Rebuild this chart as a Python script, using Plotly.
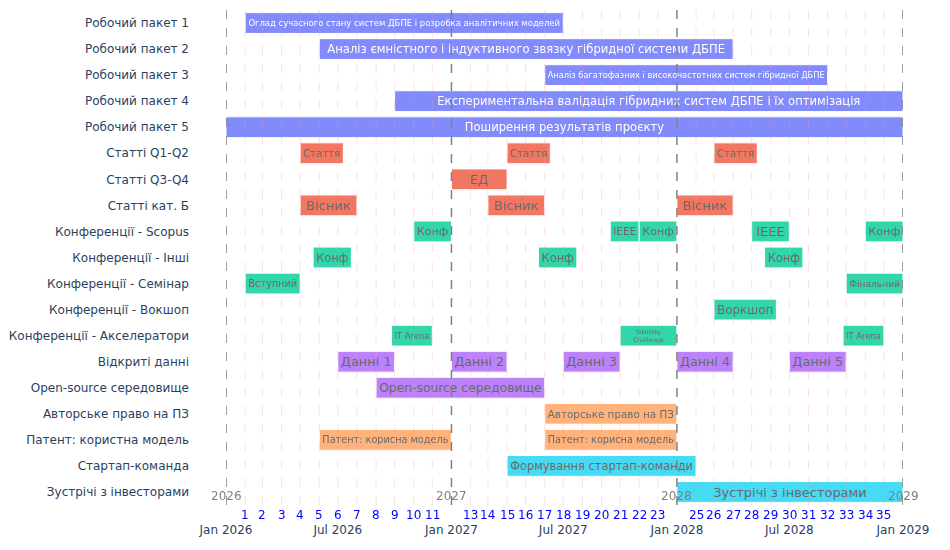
import plotly.graph_objects as go
import pandas as pd

categories = [
    "Робочий пакет 1", "Робочий пакет 2", "Робочий пакет 3", "Робочий пакет 4",
    "Робочий пакет 5", "Статті Q1-Q2", "Статті Q3-Q4", "Статті кат. Б",
    "Конференції - Scopus", "Конференції - Інші", "Конференції - Семінар",
    "Конференції - Вокшоп", "Конференції - Акселератори", "Відкриті данні",
    "Open-source середовище", "Авторське право на ПЗ", "Патент: користна модель",
    "Стартап-команда", "Зустрічі з інвесторами",
]

task_rows = [
    "Робочий пакет 1", "Робочий пакет 2", "Робочий пакет 3", "Робочий пакет 4", "Робочий пакет 5",
    "Статті Q1-Q2", "Статті Q1-Q2", "Статті Q1-Q2",
    "Статті Q3-Q4",
    "Статті кат. Б", "Статті кат. Б", "Статті кат. Б",
    "Конференції - Scopus", "Конференції - Scopus", "Конференції - Scopus",
    "Конференції - Scopus", "Конференції - Scopus",
    "Конференції - Інші", "Конференції - Інші", "Конференції - Інші",
    "Конференції - Семінар", "Конференції - Семінар",
    "Конференції - Вокшоп",
    "Конференції - Акселератори", "Конференції - Акселератори", "Конференції - Акселератори",
    "Відкриті данні", "Відкриті данні", "Відкриті данні", "Відкриті данні", "Відкриті данні",
    "Open-source середовище",
    "Авторське право на ПЗ",
    "Патент: користна модель", "Патент: користна модель",
    "Стартап-команда",
    "Зустрічі з інвесторами",
]
task_starts = [
    "2026-02-01", "2026-06-01", "2027-06-01", "2026-10-01", "2026-01-01",
    "2026-05-01", "2027-04-01", "2028-03-01",
    "2027-01-01",
    "2026-05-01", "2027-03-01", "2028-01-01",
    "2026-11-01", "2027-09-15", "2027-11-01", "2028-05-01", "2028-11-01",
    "2026-05-22", "2027-05-22", "2028-05-22",
    "2026-02-01", "2028-10-01",
    "2028-03-01",
    "2026-09-26", "2027-10-01", "2028-09-26",
    "2026-07-01", "2027-01-01", "2027-07-01", "2028-01-01", "2028-07-01",
    "2026-09-01",
    "2027-06-01",
    "2026-06-01", "2027-06-01",
    "2027-04-01",
    "2028-01-01",
]
task_ends = [
    "2027-07-01", "2028-04-01", "2028-09-01", "2029-01-01", "2029-01-01",
    "2026-07-10", "2027-06-10", "2028-05-10",
    "2027-04-01",
    "2026-08-01", "2027-06-01", "2028-04-01",
    "2027-01-01", "2027-11-01", "2028-01-01", "2028-07-01", "2029-01-01",
    "2026-07-23", "2027-07-23", "2028-07-23",
    "2026-05-01", "2029-01-01",
    "2028-06-10",
    "2026-12-01", "2028-01-01", "2028-12-01",
    "2026-10-01", "2027-04-01", "2027-10-01", "2028-04-01", "2028-10-01",
    "2027-06-01",
    "2028-01-01",
    "2027-01-01", "2028-01-01",
    "2028-02-01",
    "2029-01-01",
]
task_labels = [
    "Оглад сучасного стану систем ДБПЕ і розробка аналітичних моделей",
    "Аналіз ємністного і індуктивного звязку гібридної системи ДБПЕ",
    "Аналіз багатофазних і високочастотних систем гібридної ДБПЕ",
    "Експериментальна валідація гібридних систем ДБПЕ і їх оптимізація",
    "Поширення результатів проєкту",
    "Стаття", "Стаття", "Стаття",
    "ЕД",
    "Вісник", "Вісник", "Вісник",
    "Конф", "IEEE", "Конф", "IEEE", "Конф",
    "Конф", "Конф", "Конф",
    "Вступний", "Фінальний",
    "Воркшоп",
    "IT Arena", "Sikorsky<br>Challenge", "IT Arena",
    "Данні 1", "Данні 2", "Данні 3", "Данні 4", "Данні 5",
    "Open-source середовище",
    "Авторське право на ПЗ",
    "Патент: корисна модель", "Патент: корисна модель",
    "Формування стартап-команди",
    "Зустрічі з інвесторами",
]
task_groups = (
    ["Робочі пакети"] * 5 + ["Статті"] * 7 + ["Конференції"] * 14
    + ["Дані"] * 6 + ["ІВ"] * 3 + ["Стартап"] * 2
)

group_order = ["Робочі пакети", "Статті", "Конференції", "Дані", "ІВ", "Стартап"]
group_colors = ["#636EFA", "#EF553B", "#00CC96", "#AB63FA", "#FFA15A", "#19D3F3"]

year_lines = ["2026-01-01", "2027-01-01", "2028-01-01", "2029-01-01"]
year_labels = ["2026", "2027", "2028", "2029"]
month_numbers = [m for m in range(1, 36) if m % 12 != 0]

df = pd.DataFrame({
    "row": task_rows,
    "start": pd.to_datetime(task_starts),
    "end": pd.to_datetime(task_ends),
    "label": task_labels,
    "group": task_groups,
})

FONT = "DejaVu Sans, Verdana, sans-serif"
fig = go.Figure()
for g, c in zip(group_order, group_colors):
    d = df[df["group"] == g]
    dur = (d["end"] - d["start"]).dt.total_seconds() * 1000
    fig.add_trace(go.Bar(
        y=d["row"], x=dur, base=d["start"].dt.strftime("%Y-%m-%d"),
        orientation="h", text=d["label"], textposition="inside",
        insidetextanchor="middle", textangle=0,
        textfont=dict(size=11.6 if g == "Робочі пакети" else 14, family=FONT),
        marker=dict(color=c, line=dict(color="white", width=1)),
        opacity=0.8, showlegend=False, name=g,
    ))

# month lines
base = pd.Timestamp("2026-01-01")
for m in range(1, 36):
    if m % 12 == 0:
        continue
    xd = (base + pd.DateOffset(months=m)).strftime("%Y-%m-%d")
    fig.add_shape(type="line", xref="x", yref="paper", x0=xd, x1=xd, y0=0, y1=1,
                  line=dict(color="rgba(255,150,160,0.3)", width=1, dash="dash"), layer="above")
for xd, lab in zip(year_lines, year_labels):
    fig.add_shape(type="line", xref="x", yref="paper", x0=xd, x1=xd, y0=0, y1=1,
                  line=dict(color="gray", width=1.5, dash="dash"), layer="above")
    fig.add_annotation(x=xd, y=0, xref="x", yref="paper", text=lab, showarrow=False,
                       yanchor="bottom", font=dict(size=12, color="gray", family=FONT))
for m in month_numbers:
    xd = (base + pd.DateOffset(months=m)).strftime("%Y-%m-%d")
    fig.add_annotation(x=xd, y=0, xref="x", yref="paper", text=str(m), showarrow=False,
                       yanchor="top", yshift=-1, font=dict(size=12, color="blue", family=FONT))

fig.update_layout(
    template="plotly_white",
    width=950, height=550,
    margin=dict(l=218, r=55, t=2, b=53, autoexpand=False),
    barmode="overlay",
    font=dict(family=FONT, size=12, color="#2a3f5f"),
    plot_bgcolor="white", paper_bgcolor="white",
)
fig.update_xaxes(type="date", range=["2026-01-01", "2029-01-01"], tick0="2026-01-01",
                 dtick="M6", tickformat="%b %Y", showgrid=False, zeroline=False,
                 ticklabelstandoff=16, automargin=False)
fig.update_yaxes(categoryorder="array", categoryarray=categories, autorange="reversed",
                 showgrid=False, ticklabelstandoff=36, automargin=False)

fig.write_html("out.html")
